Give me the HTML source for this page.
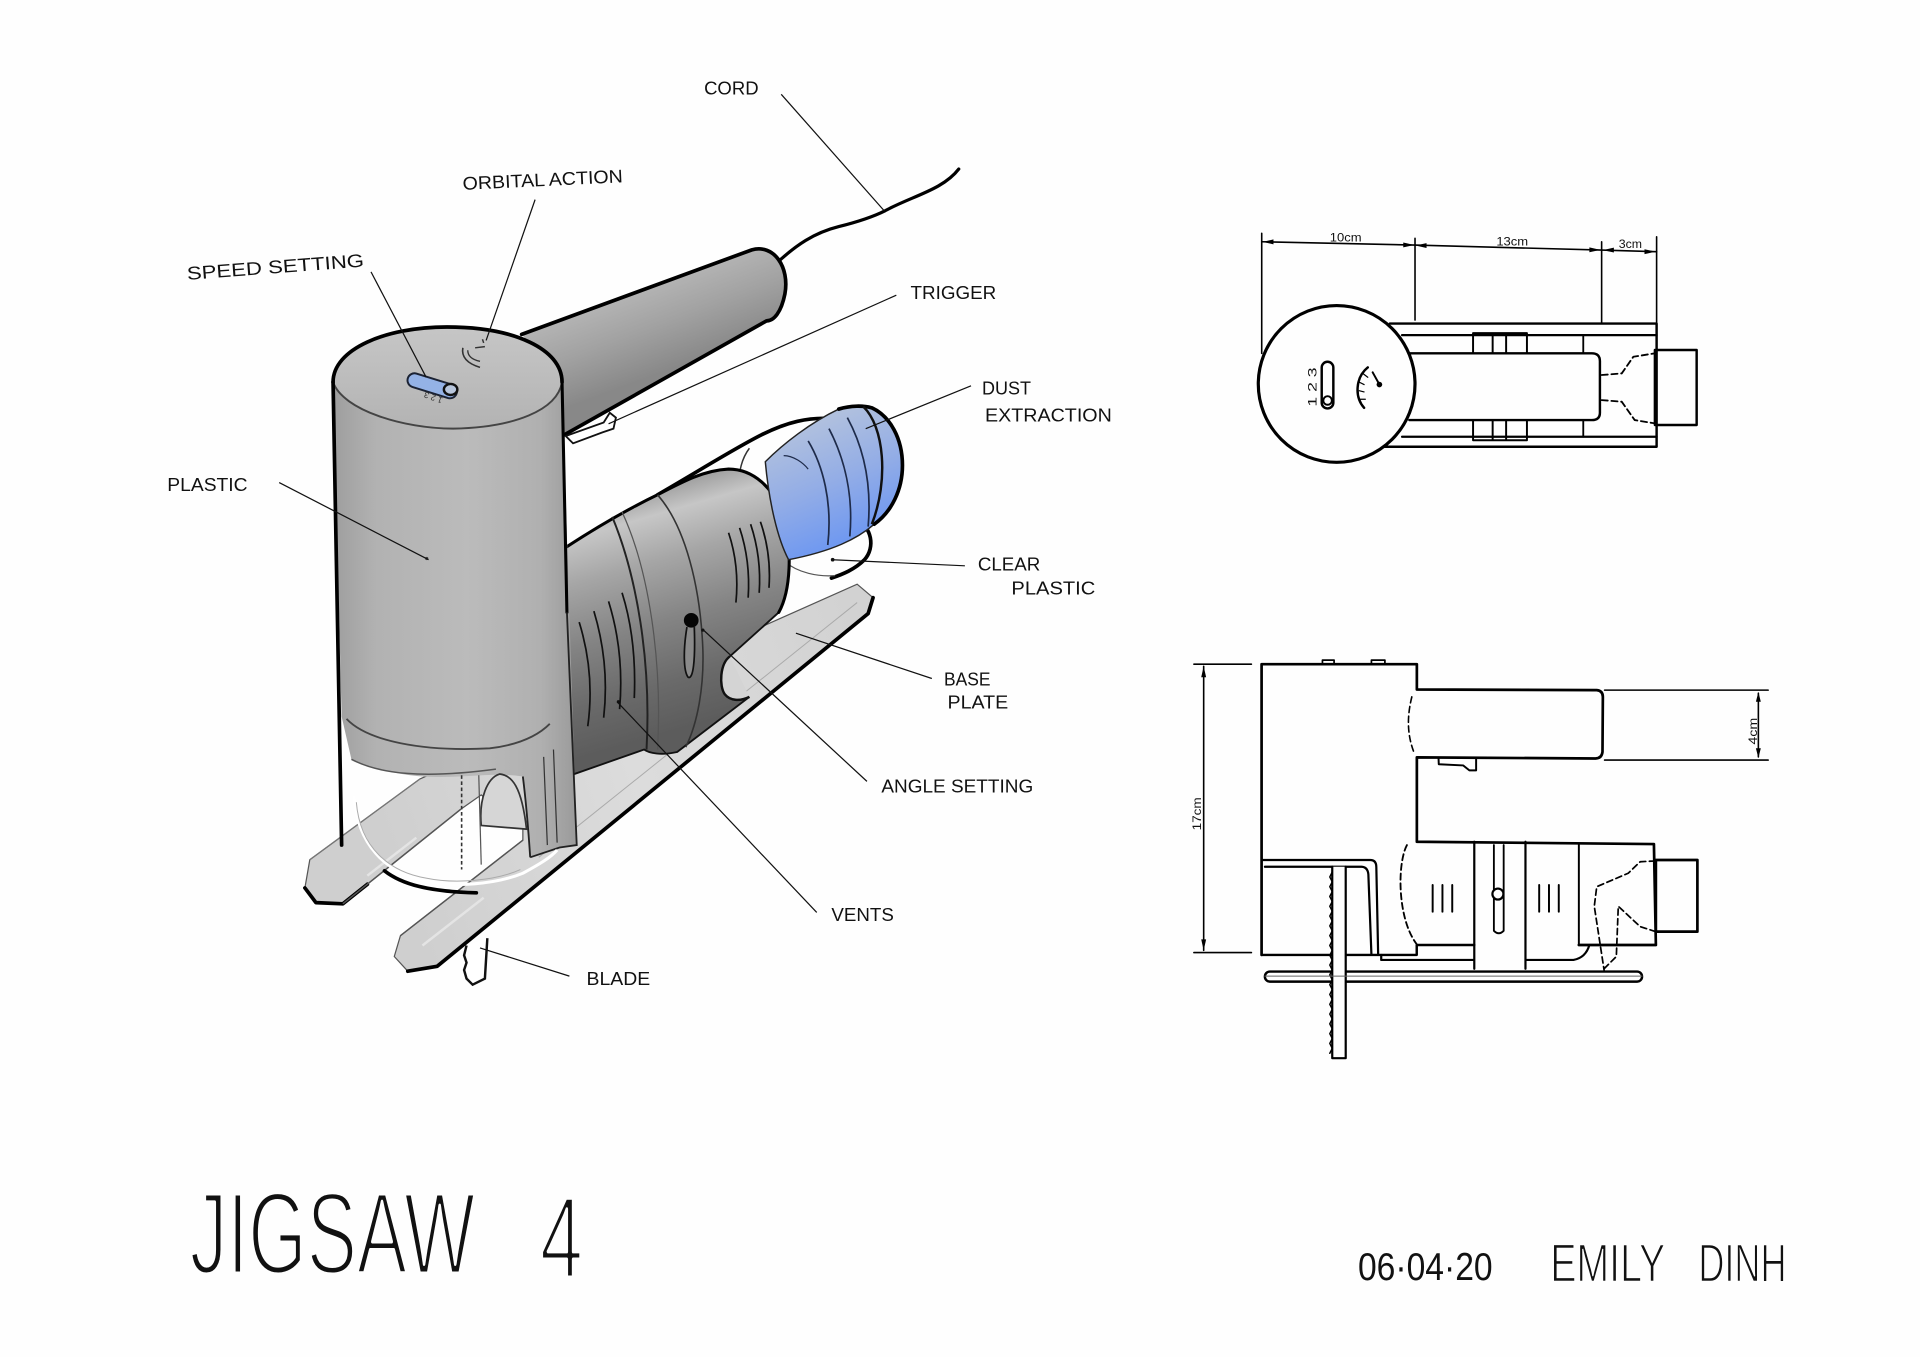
<!DOCTYPE html>
<html><head><meta charset="utf-8">
<style>
html,body{margin:0;padding:0;background:#fefefe;}
svg{display:block;}
.l{font-family:"Liberation Sans",sans-serif;font-size:15px;fill:#111;}
.d{font-family:"Liberation Sans",sans-serif;font-size:10px;fill:#111;}
.ld{stroke:#111;stroke-width:1;fill:none;}
.k{stroke:#000;fill:none;stroke-linecap:round;stroke-linejoin:round;}
</style></head><body>
<svg width="1920" height="1357" viewBox="0 0 1568 1108" preserveAspectRatio="none" xmlns="http://www.w3.org/2000/svg">
<defs>
<linearGradient id="gBody" x1="0" y1="0" x2="1" y2="0">
<stop offset="0" stop-color="#9e9e9e"/><stop offset="0.18" stop-color="#b2b2b2"/><stop offset="0.55" stop-color="#bbbbbb"/><stop offset="0.85" stop-color="#b0b0b0"/><stop offset="1" stop-color="#9a9a9a"/>
</linearGradient>
<linearGradient id="gTop" x1="0" y1="0" x2="0" y2="1">
<stop offset="0" stop-color="#c6c6c6"/><stop offset="1" stop-color="#b3b3b3"/>
</linearGradient>
<linearGradient id="gHandle" gradientUnits="userSpaceOnUse" x1="525" y1="228" x2="552" y2="300">
<stop offset="0" stop-color="#b8b8b8"/><stop offset="0.5" stop-color="#a2a2a2"/><stop offset="1" stop-color="#888888"/>
</linearGradient>
<linearGradient id="gMotor" gradientUnits="userSpaceOnUse" x1="555" y1="390" x2="610" y2="580">
<stop offset="0" stop-color="#9a9a9a"/><stop offset="0.12" stop-color="#c6c6c6"/><stop offset="0.3" stop-color="#a6a6a6"/><stop offset="0.55" stop-color="#848484"/><stop offset="0.8" stop-color="#6a6a6a"/><stop offset="1" stop-color="#5c5c5c"/>
</linearGradient>
<linearGradient id="gBlue" gradientUnits="userSpaceOnUse" x1="650" y1="335" x2="700" y2="455">
<stop offset="0" stop-color="#b9c6dc"/><stop offset="0.5" stop-color="#93ade6"/><stop offset="1" stop-color="#6492f4"/>
</linearGradient>
<linearGradient id="gPlate" gradientUnits="userSpaceOnUse" x1="300" y1="640" x2="700" y2="500">
<stop offset="0" stop-color="#cfcfcf"/><stop offset="0.5" stop-color="#dcdcdc"/><stop offset="1" stop-color="#d2d2d2"/>
</linearGradient>
</defs>
<rect width="1568" height="1108" fill="#fefefe"/>

<!-- BASE PLATE -->
<polygon points="343,636 700,477 713,488 709,501 357,789 333,793 322,781 327,764 427,686 427,677 393,649 376,661 280,738 258,737 249,725 253,702" fill="url(#gPlate)" stroke="#555" stroke-width="1"/>
<path class="k" d="M713,488 L709,501 L357,789 L333,793" stroke-width="3"/>
<path class="k" d="M249,725 L258,737 L280,738 L300,722" stroke-width="3"/>
<path d="M327,764 L427,686" stroke="#555" stroke-width="1.2" fill="none"/>
<path d="M280,738 L376,661" stroke="#555" stroke-width="1.2" fill="none"/>
<path d="M253,702 L343,636" stroke="#777" stroke-width="1" fill="none"/>
<path d="M300,715 L340,684 M345,772 L395,733" stroke="#e4e4e4" stroke-width="2" fill="none"/>
<path d="M440,700 L700,492" stroke="#aaa" stroke-width="0.8" fill="none"/>

<!-- CLEAR LOOP (back) -->
<path class="k" d="M537,404 C570,385 600,366 622,355 C642,345 660,340 682,342" stroke-width="3"/>
<path d="M612,366 C600,382 600,410 618,428" stroke="#333" stroke-width="1.2" fill="none"/>
<path class="k" d="M699,424 C712,430 715,447 706,457 C698,465 688,469 679,472" stroke-width="3"/>
<path d="M640,458 C652,468 668,471 682,470" stroke="#555" stroke-width="1" fill="none"/>
<circle cx="680" cy="457" r="1.5" fill="#111"/>

<!-- MOTOR HOUSING -->
<path d="M462,447 C485,432 510,417 537,404 C558,393 575,384 595,383 C615,383 632,398 640,422 C647,448 646,482 636,500 L596,536 C588,542 587,560 592,567 C596,572 604,573 612,569 L553,614 C540,617 530,615 526,612 L469,632 L462,632 Z" fill="url(#gMotor)" stroke="#111" stroke-width="1.5"/>
<path class="k" d="M462,447 C485,432 510,417 537,404 C558,393 575,384 595,383 C615,383 632,398 640,422 C647,448 646,482 636,500" stroke-width="2.5"/>
<path d="M596,536 C588,542 587,560 592,567 C596,572 604,573 612,569" stroke="#111" stroke-width="2" fill="#d4d4d4"/>
<path d="M500,422 C520,470 532,540 528,612" stroke="#222" stroke-width="1.6" fill="none"/>
<path d="M508,418 C530,465 541,540 537,612" stroke="#555" stroke-width="1" fill="none"/>
<path d="M537,404 C560,430 572,480 574,530 C575,560 570,590 560,610" stroke="#333" stroke-width="1.3" fill="none"/>
<path d="M473,508 Q486,550 480,593" stroke="#111" stroke-width="1.4" fill="none"/>
<path d="M485,499 Q498,542 493,586" stroke="#111" stroke-width="1.4" fill="none"/>
<path d="M497,491 Q510,533 506,579" stroke="#111" stroke-width="1.4" fill="none"/>
<path d="M508,484 Q520,522 518,570" stroke="#111" stroke-width="1.4" fill="none"/>
<path d="M595,435 Q604,462 601,492" stroke="#111" stroke-width="1.4" fill="none"/>
<path d="M604,431 Q613,458 611,488" stroke="#111" stroke-width="1.4" fill="none"/>
<path d="M613,428 Q622,455 620,484" stroke="#111" stroke-width="1.4" fill="none"/>
<path d="M621,426 Q630,452 628,480" stroke="#111" stroke-width="1.4" fill="none"/>
<path d="M561,512 C558,530 558,548 562,553 C566,555 568,540 567,512" stroke="#111" stroke-width="1.4" fill="#8a8a8a"/>
<circle cx="564.5" cy="506.5" r="6" fill="#050505"/>

<!-- BLUE NOZZLE -->
<path d="M625,377 C640,362 662,345 685,334 C695,331 705,331 712,333 C727,340 737,358 737,380 C737,400 728,418 714,428 C700,440 680,450 644,457 C635,440 628,410 625,377 Z" fill="url(#gBlue)" stroke="#222" stroke-width="1.2"/>
<path class="k" d="M685,334 C695,331 705,331 712,333 C727,340 737,358 737,380 C737,400 728,418 714,428" stroke-width="3"/>
<path d="M705,332 C722,348 726,392 712,428" stroke="#111" stroke-width="2" fill="none"/>
<path d="M660,360 C672,380 680,410 676,445" stroke="#1e2b4a" stroke-width="1.4" fill="none"/>
<path d="M677,350 C690,375 697,405 694,438" stroke="#1e2b4a" stroke-width="1.4" fill="none"/>
<path d="M692,341 C705,365 712,395 709,430" stroke="#1e2b4a" stroke-width="1.4" fill="none"/>
<path d="M640,372 C648,372 656,378 660,383" stroke="#1e2b4a" stroke-width="1" fill="none"/>

<!-- CORD -->
<path class="k" d="M633,216 C650,200 665,190 685,185 C705,180 715,176 723,172 C745,160 770,155 783,138" stroke-width="2.6"/>

<!-- HANDLE -->
<path d="M426,273 L614,204 C632,199 645,218 641,240 C638,255 632,262 626,262 L461,355 L450,300 Z" fill="url(#gHandle)"/>
<path class="k" d="M426,273 L614,204 C632,199 645,218 641,240 C638,255 632,262 626,262 L461,355" stroke-width="3"/>
<path d="M462,356 L493,345 L498,337 L503,341 L501,350 L492,353 L468,362 Z" fill="#fff" stroke="#111" stroke-width="1.5"/>

<!-- MAIN BODY -->
<path d="M272,312 C272,285 315,267 365,267 C420,267 459,285 459,312 L471,690 L457,692 L433,700 C431,670 429,650 427,634 C400,630 380,636 345,634 C320,632 300,626 287,620 L279,585 Z" fill="url(#gBody)"/>
<path d="M272,312 C280,335 330,350 370,350 C420,349 455,335 459,312 C459,285 420,267 365,267 C315,267 272,285 272,312 Z" fill="url(#gTop)"/>
<path d="M272,312 C280,335 330,350 370,350 C420,349 455,335 459,312" stroke="#444" stroke-width="1.6" fill="none"/>
<path class="k" d="M272,312 C272,285 315,267 365,267 C420,267 459,285 459,312" stroke-width="3"/>
<path class="k" d="M272,312 L279,690" stroke-width="3"/>
<path class="k" d="M459,312 L463,500" stroke-width="2.5"/>
<path d="M463,500 L471,690 L457,692 L433,700" stroke="#222" stroke-width="1.5" fill="none"/>
<path d="M283,587 C300,605 345,614 400,611 C425,608 440,600 449,591" stroke="#444" stroke-width="1.5" fill="none"/>
<path d="M287,620 C310,632 345,636 405,628" stroke="#555" stroke-width="1.2" fill="none"/>
<path d="M427,634 C429,650 431,670 433,700" stroke="#222" stroke-width="1.5" fill="none"/>
<path d="M393,674 C391,652 398,635 408,632 C418,633 426,642 430,677 Z" fill="#d6d6d6" stroke="#333" stroke-width="1.4"/>
<path d="M444,618 L447,690 M452,612 L455,688" stroke="#333" stroke-width="1" fill="none"/>
<path d="M377,633 L377,710" stroke="#333" stroke-width="1.3" stroke-dasharray="3 2" fill="none"/>
<path d="M391,633 L393,706" stroke="#555" stroke-width="1" fill="none"/>
<path d="M289,650 C292,690 315,712 346,719 C370,725 405,722 427,713 C440,706 450,700 455,694" stroke="#fff" stroke-width="2.5" fill="none"/>
<path d="M291,655 C294,692 318,712 348,717 C372,722 405,719 425,710" stroke="#aaa" stroke-width="0.8" fill="none"/>
<path class="k" d="M314,711 C328,722 350,728 389,729" stroke-width="3"/>
<path d="M381,772 L379,780 L381,786 L379,792 L381,799 L386,804 L396,799 L398,766" fill="#fff" stroke="#111" stroke-width="2"/>
<path d="M340,305 L369,314 A5.5,5.5 0 0 1 366,325 L337,316 A5.5,5.5 0 0 1 340,305 Z" fill="#94b2e6" stroke="#1b2233" stroke-width="1.6"/>
<ellipse cx="368" cy="318" rx="5.5" ry="4.5" fill="#b8c6dc" stroke="#111" stroke-width="2"/>
<text x="0" y="0" font-family="Liberation Sans,sans-serif" font-size="7" fill="#333" transform="translate(362,325) rotate(200)">1 2 3</text>
<path d="M378,284 Q376,295 392,300" stroke="#333" stroke-width="1.3" fill="none"/>
<path d="M382,286 Q382,293 392,295" stroke="#333" stroke-width="1.1" fill="none"/>
<path d="M388,284 L396,283 M394,277 L395,280" stroke="#333" stroke-width="1.2" fill="none"/>
<circle cx="348.5" cy="456" r="1.3" fill="#444"/>

<!-- LEADERS -->
<path class="ld" d="M638,77 L722,172"/>
<path class="ld" d="M437,163 L397,278"/>
<path class="ld" d="M303,222 L348,308"/>
<path class="ld" d="M732,241 L497,346"/>
<path class="ld" d="M793,315 L707,350"/>
<path class="ld" d="M788,462 L680,457"/>
<path class="ld" d="M228,394 L350,457"/>
<path class="ld" d="M761,554 L650,517"/>
<path class="ld" d="M708,638 L574,514"/>
<circle cx="574" cy="514.5" r="1.3" fill="#111"/>
<path class="ld" d="M667,745 L504,573"/>
<circle cx="505" cy="573" r="1.3" fill="#111"/>
<path class="ld" d="M465,797 L392,774"/>

<!-- LABELS -->
<text class="l" x="575" y="77" textLength="44.5" lengthAdjust="spacingAndGlyphs">CORD</text>
<text class="l" x="378" y="155" textLength="131" lengthAdjust="spacingAndGlyphs" transform="rotate(-2.7 378 155)">ORBITAL ACTION</text>
<text class="l" x="153" y="228.5" textLength="145" lengthAdjust="spacingAndGlyphs" transform="rotate(-4.3 153 228.5)">SPEED SETTING</text>
<text class="l" x="743.6" y="244" textLength="70" lengthAdjust="spacingAndGlyphs">TRIGGER</text>
<text class="l" x="802" y="322" textLength="40" lengthAdjust="spacingAndGlyphs">DUST</text>
<text class="l" x="804.4" y="344" textLength="103.6" lengthAdjust="spacingAndGlyphs">EXTRACTION</text>
<text class="l" x="798.6" y="466" textLength="51" lengthAdjust="spacingAndGlyphs">CLEAR</text>
<text class="l" x="826" y="485.3" textLength="68.5" lengthAdjust="spacingAndGlyphs">PLASTIC</text>
<text class="l" x="136.6" y="401" textLength="65.6" lengthAdjust="spacingAndGlyphs">PLASTIC</text>
<text class="l" x="770.9" y="559.7" textLength="38" lengthAdjust="spacingAndGlyphs">BASE</text>
<text class="l" x="773.8" y="578.7" textLength="49.6" lengthAdjust="spacingAndGlyphs">PLATE</text>
<text class="l" x="719.8" y="647.2" textLength="124" lengthAdjust="spacingAndGlyphs">ANGLE SETTING</text>
<text class="l" x="679" y="752.2" textLength="51" lengthAdjust="spacingAndGlyphs">VENTS</text>
<text class="l" x="479" y="804.4" textLength="52" lengthAdjust="spacingAndGlyphs">BLADE</text>

<!-- TOP VIEW -->
<g stroke="#000" fill="none" stroke-linecap="round" stroke-linejoin="round">
<path d="M1030.4,190.5 L1030.4,288.5 M1155.6,194.6 L1155.6,261.3 M1308,197.4 L1308,264 M1352.9,193.3 L1352.9,265.4" stroke-width="1.3"/>
<path d="M1030.4,197.4 L1155.6,200.1 L1308,204.2 L1352.9,205.5" stroke-width="1.3"/>
<path d="M1135,264.2 L1352.9,264.2 L1352.9,364.8 L1125,364.8" stroke-width="2"/>
<path d="M1145,273.6 L1352.9,273.6 M1145,356.6 L1352.9,356.6" stroke-width="1.8"/>
<path d="M1151,288.5 L1300,288.5 Q1306.6,288.5 1306.6,295 L1306.6,337 Q1306.6,343 1300,343 L1151,343" stroke-width="2"/>
<path d="M1203,288.5 L1203,272 L1247,272 L1247,288.5 M1219,272 L1219,288.5 M1230,272 L1230,288.5" stroke-width="1.6"/>
<path d="M1203,343 L1203,359.5 L1247,359.5 L1247,343 M1219,343 L1219,359.5 M1230,343 L1230,359.5" stroke-width="1.6"/>
<path d="M1293,273.6 L1293,288.5 M1293,343 L1293,356.6" stroke-width="1.5"/>
<rect x="1351.5" y="285.8" width="34.1" height="61.2" stroke-width="2"/>
<path d="M1308,306.2 L1324.4,304.9 L1333.9,291.3 L1351.5,288.5 M1308,326.7 L1324.4,328 L1335,343 L1351.5,345.7" stroke-width="1.5" stroke-dasharray="5 3"/>
<circle cx="1091.6" cy="313.5" r="64" fill="#fefefe" stroke-width="2.6"/>
<rect x="1079.4" y="295.4" width="9.5" height="38.1" rx="4.7" stroke-width="2"/>
<circle cx="1084.2" cy="327" r="3.5" stroke-width="1.6"/>
<path d="M1117,300 C1107,308 1106,324 1114,333" stroke-width="2"/>
<path d="M1113,305 L1117,308 M1110,312 L1114,314 M1110,319 L1114,320 M1111,326 L1115,326" stroke-width="1"/>
<path d="M1121,304 L1126,313" stroke-width="1.6"/>
</g>
<circle cx="1126.5" cy="314" r="2.3" fill="#000"/>
<g fill="#000">
<polygon points="1031,197.5 1040,195.5 1040,199.5"/>
<polygon points="1155,200 1146,198 1146,202"/>
<polygon points="1156,200.5 1165,198.5 1165,202.5"/>
<polygon points="1307,204 1298,202 1298,206"/>
<polygon points="1309,204.2 1318,202.2 1318,206.2"/>
<polygon points="1352,205.5 1343,203.5 1343,207.5"/>
</g>
<text class="d" x="1086" y="197" textLength="26" lengthAdjust="spacingAndGlyphs">10cm</text>
<text class="d" x="1222" y="200.5" textLength="26" lengthAdjust="spacingAndGlyphs">13cm</text>
<text class="d" x="1322" y="202.5" textLength="19" lengthAdjust="spacingAndGlyphs">3cm</text>
<text class="d" font-size="9" textLength="32" lengthAdjust="spacingAndGlyphs" transform="translate(1075,332) rotate(-90)">1 2 3</text>

<!-- SIDE VIEW -->
<g stroke="#000" fill="none" stroke-linecap="round" stroke-linejoin="round">
<path d="M975,542.3 L1022,542.3 M975,777.8 L1022,777.8 M983,544 L983,776" stroke-width="1.3"/>
<path d="M1310.4,563.5 L1444,563.5 M1310.4,620.6 L1444,620.6 M1436,566 L1436,618" stroke-width="1.3"/>
<path d="M1030.3,779.7 L1030.3,542.3 L1157.1,542.3 L1157.1,563 L1304,563.5 Q1309,564 1309,569 L1308.7,614 Q1308,619.3 1303,619.3 L1157.1,618.4 L1157.1,687.3 L1350.7,689.2 L1352.3,771.6 L1289.4,771.6" stroke-width="2.2"/>
<path d="M1030.3,779.7 L1157,779.7 L1157,771.6 L1204,771.6" stroke-width="2"/>
<path d="M1128,779.7 L1128,783.8 L1204,783.8 M1204,687.3 L1204,791 M1245.8,687.3 L1245.8,791 M1245.8,783.8 L1285,783.8 Q1295,782 1298,771.6" stroke-width="1.8"/>
<path d="M1289.4,689 L1289.4,771.6" stroke-width="1.6"/>
<rect x="1352.3" y="702.2" width="33.9" height="58.5" stroke-width="2.2"/>
<path d="M1030.3,702.2 L1119,702.2 Q1124,702.2 1124,708 L1125.5,779.7 M1033,707.7 L1112,707.7 Q1117,708 1117.5,714 L1120,779.7" stroke-width="1.8"/>
<path d="M1220,690 L1220,760 Q1224,764 1228,760 L1228,690" stroke-width="1.5"/>
<path d="M1149,690 C1141,705 1141,750 1157,771" stroke-width="1.5" stroke-dasharray="5 3"/>
<path d="M1153,569 C1149,585 1149,600 1155,615" stroke-width="1.3" stroke-dasharray="5 3"/>
<path d="M1170,722.6 L1170,744.4 M1178,722.6 L1178,744.4 M1186,722.6 L1186,744.4 M1257,722.6 L1257,744.4 M1265,722.6 L1265,744.4 M1273,722.6 L1273,744.4" stroke-width="1.6"/>
<path d="M1352,703 L1339.5,703.6 L1329.7,713 L1304,724 L1302,740 L1310,792 M1352.3,760.7 L1339.5,756.6 L1321.6,740 L1320,781 L1309,792" stroke-width="1.4" stroke-dasharray="5 3"/>
<path d="M1174.8,619 L1175,624 L1195,625 L1200,629 L1205.5,629 L1205.5,619" stroke-width="1.6"/>
<path d="M1080,542.3 L1080,539 L1089.5,539 L1089.5,542.3 M1120,542.3 L1120,539 L1131,539 L1131,542.3" stroke-width="1.4"/>
<rect x="1033" y="793.3" width="308" height="8.2" rx="4" fill="#fefefe" stroke-width="2"/>
<path d="M1088,707.7 L1088,864 L1099,864 L1099,707.7" fill="#fefefe" stroke-width="1.8"/>
<path d="M1088,712 l-2,4 l2,4 l-2,4 l2,4 l-2,4 l2,4 l-2,4 l2,4 l-2,4 l2,4 l-2,4 l2,4 l-2,4 l2,4 l-2,4 l2,4 l-2,4 l2,4 l-2,4 l2,4 l-2,4 l2,4 l-2,4 l2,4 l-2,4 l2,4 l-2,4 l2,4 l-2,4 l2,4 l-2,4 l2,4 l-2,4 l2,4 l-2,4 l2,4 l-2,4" stroke-width="1.2"/>
<path d="M1033,797 L1341,797" stroke-width="0.8" stroke="#666"/>
</g>
<circle cx="1223.3" cy="730" r="4.5" fill="#fefefe" stroke="#000" stroke-width="1.8"/>
<g fill="#000">
<polygon points="983,544 981,553 985,553"/>
<polygon points="983,776 981,767 985,767"/>
<polygon points="1436,565 1434,573 1438,573"/>
<polygon points="1436,619 1434,611 1438,611"/>
</g>
<text class="d" textLength="27" lengthAdjust="spacingAndGlyphs" transform="translate(981,678) rotate(-90)">17cm</text>
<text class="d" textLength="22" lengthAdjust="spacingAndGlyphs" transform="translate(1435,608) rotate(-90)">4cm</text>

<!-- TITLE & SIGNATURE -->
<text x="155" y="1040" font-family="Liberation Sans,sans-serif" font-size="95" textLength="233" lengthAdjust="spacingAndGlyphs" fill="#111" stroke="#fefefe" stroke-width="3.2" stroke-linejoin="round">JIGSAW</text>
<text x="441" y="1043" font-family="Liberation Sans,sans-serif" font-size="95" textLength="35" lengthAdjust="spacingAndGlyphs" fill="#111" stroke="#fefefe" stroke-width="3.2" stroke-linejoin="round">4</text>
<text x="1109" y="1045" font-family="Liberation Sans,sans-serif" font-size="32" textLength="110" lengthAdjust="spacingAndGlyphs" fill="#111">06·04·20</text>
<text x="1266" y="1046.5" font-family="Liberation Sans,sans-serif" font-size="44" textLength="94" lengthAdjust="spacingAndGlyphs" fill="#111" stroke="#fefefe" stroke-width="1.2">EMILY</text>
<text x="1387" y="1046.5" font-family="Liberation Sans,sans-serif" font-size="44" textLength="72" lengthAdjust="spacingAndGlyphs" fill="#111" stroke="#fefefe" stroke-width="1.2">DINH</text>
</svg>
</body></html>
